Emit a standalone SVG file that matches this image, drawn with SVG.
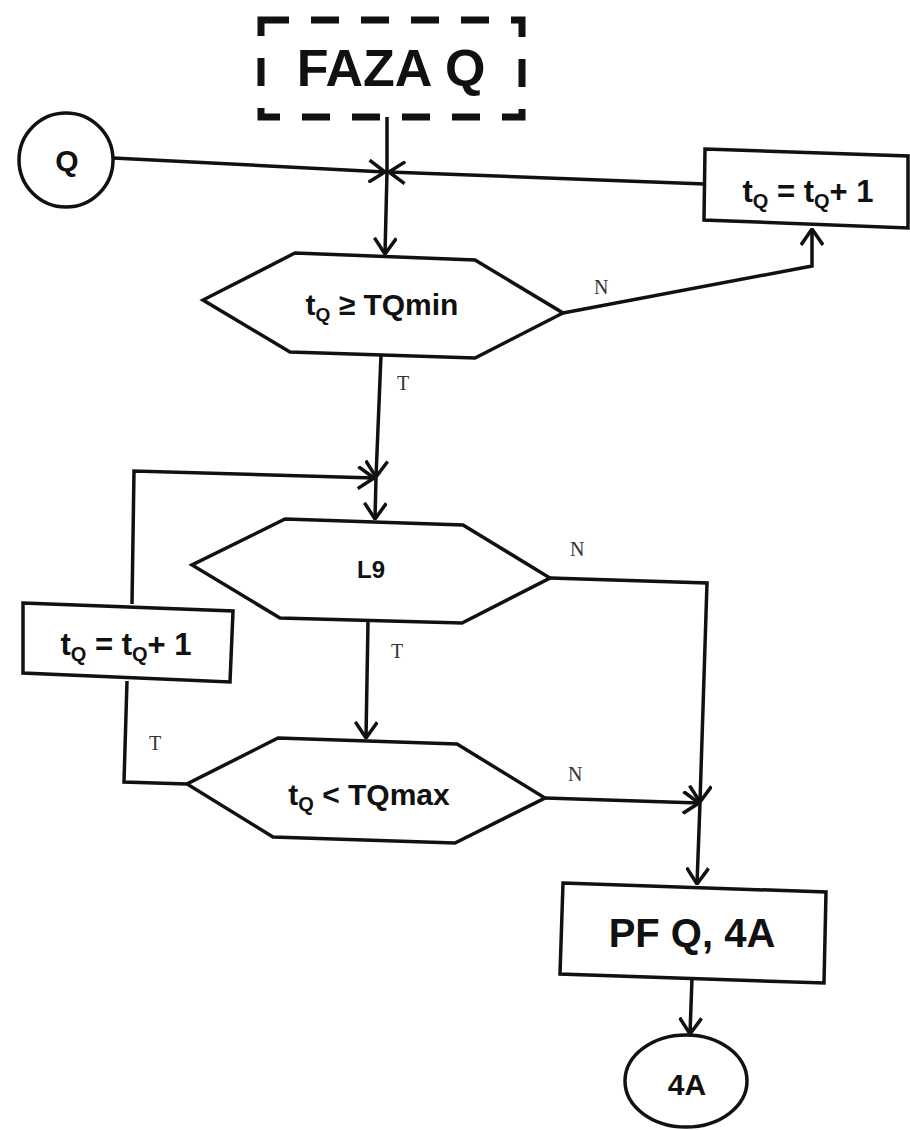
<svg xmlns="http://www.w3.org/2000/svg" width="910" height="1130" viewBox="0 0 910 1130">
<style>
.shape{fill:#fff;stroke:#111;stroke-width:3.5;stroke-linejoin:miter}
.conn{fill:none;stroke:#111;stroke-width:3.5;stroke-linejoin:miter}
.txt{font-family:"Liberation Sans",Arial,sans-serif;font-weight:bold;fill:#111;text-anchor:middle}
.lbl{font-family:"Liberation Serif","Times New Roman",serif;font-size:20px;fill:#333}
</style>
<defs>
<marker id="arr" viewBox="0 0 18 24" refX="17" refY="12" markerWidth="18" markerHeight="24" markerUnits="userSpaceOnUse" orient="auto">
<path d="M1,1 L17,12 L1,23" fill="none" stroke="#111" stroke-width="3.5"/>
</marker>
</defs>
<rect width="910" height="1130" fill="#fff"/>

<g id="connectors">
<path class="conn" d="M387,117 V172"/>
<path class="conn" d="M113,158 L385,172" marker-end="url(#arr)"/>
<path class="conn" d="M705,184 L389,172" marker-end="url(#arr)"/>
<path class="conn" d="M387,172 L385,254" marker-end="url(#arr)"/>
<path class="conn" d="M563,313 L812,266 L812,229" marker-end="url(#arr)"/>
<path class="conn" d="M381,355 L376,477" marker-end="url(#arr)"/>
<path class="conn" d="M132,604 L134,471 L374,478" marker-end="url(#arr)"/>
<path class="conn" d="M376,478 L375,519" marker-end="url(#arr)"/>
<path class="conn" d="M368,621 L366,738" marker-end="url(#arr)"/>
<path class="conn" d="M550,578 L707,583 L700,802" marker-end="url(#arr)"/>
<path class="conn" d="M187,784 L124,782 L127,681"/>
<path class="conn" d="M545,798 L699,803" marker-end="url(#arr)"/>
<path class="conn" d="M700,803 L697,884" marker-end="url(#arr)"/>
<path class="conn" d="M692,978 L690,1034" marker-end="url(#arr)"/>
<text class="lbl" x="594" y="294">N</text>
<text class="lbl" x="397" y="390">T</text>
<text class="lbl" x="570" y="556">N</text>
<text class="lbl" x="391" y="658">T</text>
<text class="lbl" x="149" y="750">T</text>
<text class="lbl" x="568" y="781">N</text>
</g>

<g id="faza">
<rect x="261" y="20" width="261" height="97" fill="none" stroke="#111" stroke-width="7" stroke-dasharray="28 22"/>
<text class="txt" x="391" y="86" font-size="52">FAZA Q</text>
</g>

<g id="start-q">
<circle class="shape" cx="66" cy="160" r="47"/>
<text class="txt" x="67" y="171" font-size="30">Q</text>
</g>

<g id="inc-top">
<polygon class="shape" points="705,149 908,156 908,228 704,220"/>
<text class="txt" x="808" y="202" font-size="31">t<tspan font-size="20" dy="6">Q</tspan><tspan dy="-6"> = t</tspan><tspan font-size="20" dy="6">Q</tspan><tspan dy="-6">+ 1</tspan></text>
</g>

<g id="dec-tqmin">
<polygon class="shape" points="295,253 475,260 563,313 475,358 290,352 203,300"/>
<text class="txt" x="382" y="315" font-size="30">t<tspan font-size="19" dy="6">Q</tspan><tspan dy="-6"> ≥ TQmin</tspan></text>
</g>

<g id="dec-l9">
<polygon class="shape" points="285,519 463,525 550,578 462,623 280,618 192,565"/>
<text class="txt" x="371" y="578" font-size="24">L9</text>
</g>

<g id="inc-left">
<polygon class="shape" points="23,603 233,611 230,682 23,673"/>
<text class="txt" x="126" y="655" font-size="31">t<tspan font-size="20" dy="6">Q</tspan><tspan dy="-6"> = t</tspan><tspan font-size="20" dy="6">Q</tspan><tspan dy="-6">+ 1</tspan></text>
</g>

<g id="dec-tqmax">
<polygon class="shape" points="278,738 457,744 545,798 455,843 273,837 187,784"/>
<text class="txt" x="369" y="805" font-size="30">t<tspan font-size="20" dy="6">Q</tspan><tspan dy="-6"> &lt; TQmax</tspan></text>
</g>

<g id="pf">
<polygon class="shape" points="563,883 826,892 824,983 560,974"/>
<text class="txt" x="692" y="947" font-size="40">PF Q, 4A</text>
</g>

<g id="end-4a">
<ellipse class="shape" cx="686" cy="1081" rx="61" ry="46"/>
<text class="txt" x="687" y="1095" font-size="30">4A</text>
</g>
</svg>
